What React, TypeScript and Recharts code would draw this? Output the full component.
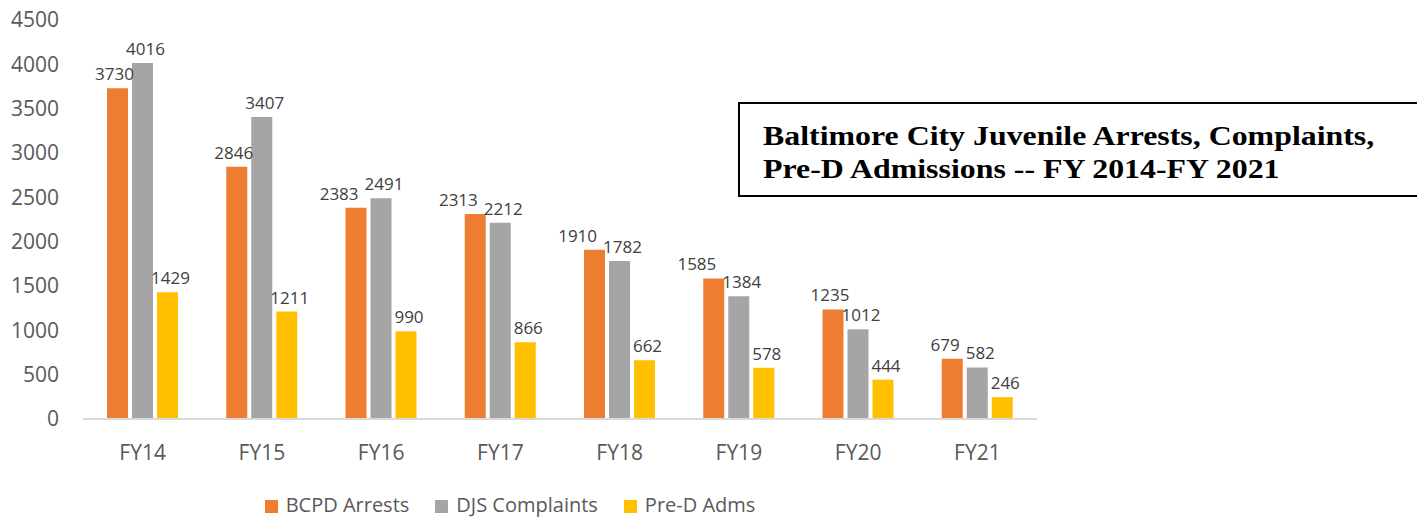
import React from 'react';
import { BarChart, Bar, XAxis, YAxis, Legend, LabelList } from 'recharts';

const categories = ['FY14', 'FY15', 'FY16', 'FY17', 'FY18', 'FY19', 'FY20', 'FY21'];
const bcpdArrests = [3730, 2846, 2383, 2313, 1910, 1585, 1235, 679];
const djsComplaints = [4016, 3407, 2491, 2212, 1782, 1384, 1012, 582];
const preDAdms = [1429, 1211, 990, 866, 662, 578, 444, 246];
const yTicks = [0, 500, 1000, 1500, 2000, 2500, 3000, 3500, 4000, 4500];

const data = categories.map((c, i) => ({
  name: c,
  bcpd: bcpdArrests[i],
  djs: djsComplaints[i],
  pred: preDAdms[i],
}));

const FONT = '"Open Sans", "Noto Sans", sans-serif';
const LABEL_SIZE = 17;
const labelWidth = (v: number) => String(v).length * 0.572 * LABEL_SIZE;

// Orange labels: shift left when they would collide with the neighbouring grey label
const OrangeLabel = (props: any) => {
  const { x, y, width, height, value, index } = props;
  const scale = value ? height / value : 0;
  const other = djsComplaints[index];
  const sep = Math.abs((other - value) * scale);
  let dx = -3;
  if (sep < 19) {
    const needed = (labelWidth(value) + labelWidth(other)) / 2 + 6;
    const have = 25 + 3 - dx;
    if (needed > have) dx -= needed - have;
  }
  return (
    <text
      x={x + width / 2 + dx}
      y={y - 8}
      textAnchor="middle"
      fill="#404040"
      fontSize={LABEL_SIZE}
      fontFamily={FONT}
    >
      {value}
    </text>
  );
};

const makeLabel = (dx: number) => (props: any) => {
  const { x, y, width, value } = props;
  return (
    <text
      x={x + width / 2 + dx}
      y={y - 8}
      textAnchor="middle"
      fill="#404040"
      fontSize={LABEL_SIZE}
      fontFamily={FONT}
    >
      {value}
    </text>
  );
};

export default function App() {
  return (
    <div style={{ position: 'absolute', left: 0, top: 0, width: 1417, height: 518, background: '#fff', overflow: 'hidden' }}>
      <BarChart
        width={1417}
        height={518}
        data={data}
        margin={{ top: 20, right: 380, left: 0, bottom: 39 }}
        barGap={4}
        barCategoryGap={24}
      >
        <XAxis
          dataKey="name"
          height={60}
          axisLine={{ stroke: '#d9d9d9', strokeWidth: 2 }}
          tickLine={false}
          tick={{ fill: '#595959', fontSize: 21, fontFamily: FONT }}
          tickMargin={20}
        />
        <YAxis
          width={83}
          domain={[0, 4500]}
          ticks={yTicks}
          axisLine={false}
          tickLine={false}
          tick={{ fill: '#595959', fontSize: 21, fontFamily: FONT }}
          tickMargin={18}
        />
        <Legend
          layout="horizontal"
          verticalAlign="middle"
          align="center"
          iconType="square"
          iconSize={13}
          wrapperStyle={{ top: 494, left: 0, width: 1046, height: 22, lineHeight: '22px', fontFamily: FONT, fontSize: 20 }}
          formatter={(value: string) => <span style={{ color: '#595959', marginLeft: 4, marginRight: 16 }}>{value}</span>}
        />
        <Bar dataKey="bcpd" name="BCPD Arrests" fill="#ed7d31" barSize={21} isAnimationActive={false}>
          <LabelList dataKey="bcpd" content={OrangeLabel} />
        </Bar>
        <Bar dataKey="djs" name="DJS Complaints" fill="#a5a5a5" barSize={21} isAnimationActive={false}>
          <LabelList dataKey="djs" content={makeLabel(3)} />
        </Bar>
        <Bar dataKey="pred" name="Pre-D Adms" fill="#ffc000" barSize={21} isAnimationActive={false}>
          <LabelList dataKey="pred" content={makeLabel(3)} />
        </Bar>
      </BarChart>
      <div
        style={{
          position: 'absolute',
          left: 738,
          top: 102,
          width: 690,
          height: 95,
          border: '2px solid #000',
          boxSizing: 'border-box',
          fontFamily: '"Liberation Serif", "Times New Roman", serif',
          fontWeight: 'bold',
          fontSize: 27,
          lineHeight: '33px',
          color: '#000',
          padding: '16px 0 0 23px',
        }}
      >
        <div style={{ transform: 'scaleX(1.18)', transformOrigin: 'left top', whiteSpace: 'nowrap' }}>
          Baltimore City Juvenile Arrests, Complaints,
          <br />
          Pre-D Admissions -- FY 2014-FY 2021
        </div>
      </div>
    </div>
  );
}
